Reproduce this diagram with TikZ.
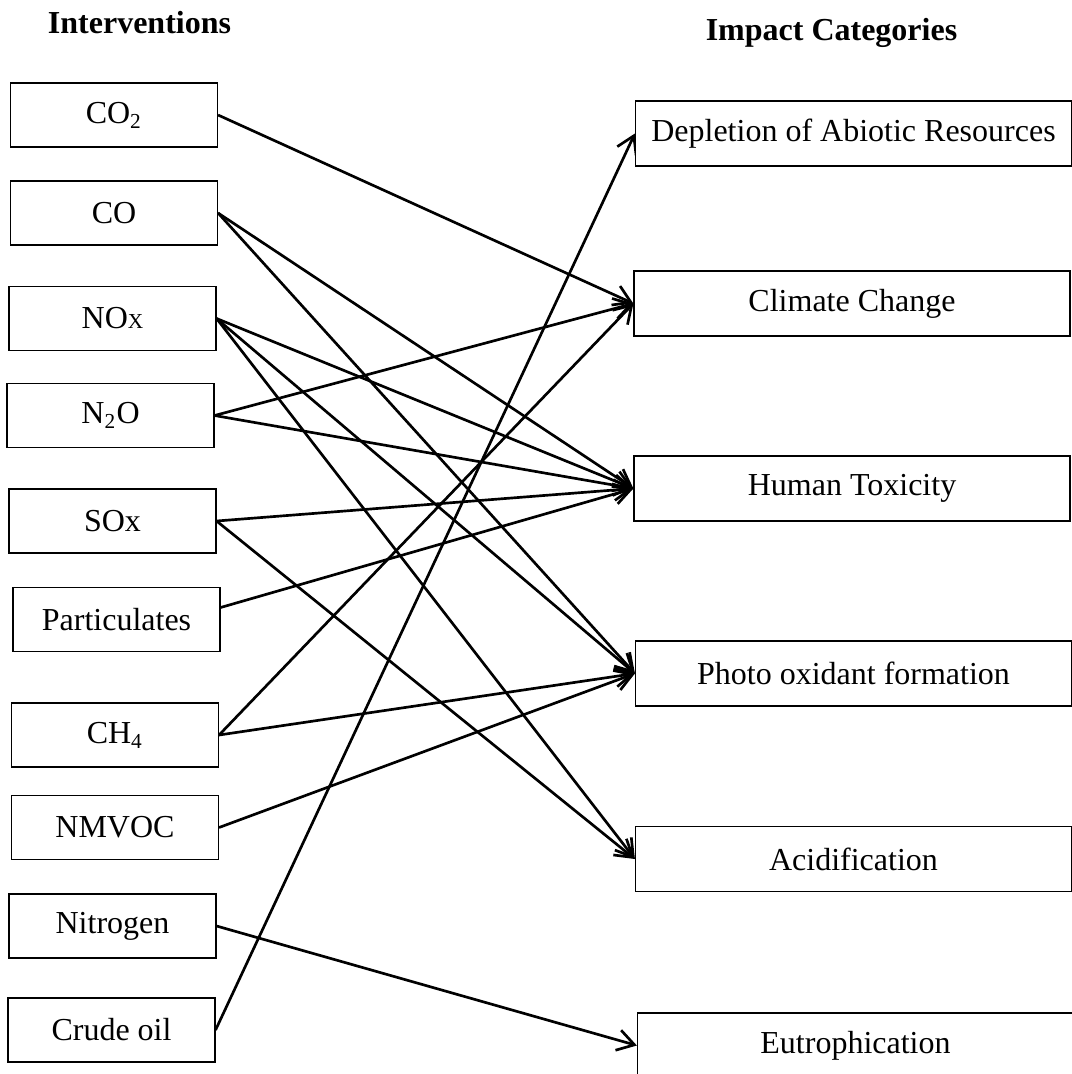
\documentclass[tikz,border=0pt]{standalone}
\usepackage{fontspec}
\setmainfont{Liberation Serif}
\usepackage{tikz}
\usetikzlibrary{positioning}
\usetikzlibrary{calc}
\usetikzlibrary{arrows.meta}
\pgfdeclarelayer{nodelayer}
\pgfdeclarelayer{edgelayer}
\pgfsetlayers{edgelayer,nodelayer,main}
\tikzset{every picture/.append style={x=15pt, y=15pt, font=\fontsize{12pt}{14pt}\selectfont}}
\tikzset{inbox/.style={draw, fill=white, rectangle, line width=0.45pt, minimum width=77.6pt, minimum height=24pt, inner sep=0pt}}
\tikzset{outbox/.style={draw, fill=white, rectangle, line width=0.45pt, minimum width=163.5pt, minimum height=24.4pt, inner sep=0pt}}
\tikzset{heading/.style={font=\fontsize{12pt}{14pt}\selectfont\bfseries, anchor=base, inner sep=0pt}}
\tikzset{link/.style={line width=1pt, -{Straight Barb[length=6.3pt, width=7.8pt]}}}

\begin{document}
\begin{tikzpicture}
	\useasboundingbox (0, 0) rectangle (26.8, -26.85);
	\begin{pgfonlayer}{nodelayer}
		\node [style=heading] (16) at (3.4875, -0.825) {Interventions};
		\node [style=heading] (17) at (20.7875, -1.0) {Impact Categories};
		\node [style=inbox] (0) at (2.85, -2.875) {CO\textsubscript{2}};
		\node [style=inbox] (1) at (2.85, -5.325) {CO};
		\node [style=inbox] (2) at (2.8125, -7.9625) {NO{\footnotesize X}};
		\node [style=inbox] (3) at (2.7625, -10.3875) {N\textsubscript{2}O};
		\node [style=inbox] (4) at (2.8125, -13.025) {SOx};
		\node [style=inbox] (5) at (2.9125, -15.4875) {Particulates};
		\node [style=inbox] (6) at (2.875, -18.375) {CH\textsubscript{4}};
		\node [style=inbox] (7) at (2.875, -20.6875) {NMVOC};
		\node [style=inbox] (8) at (2.8125, -23.15) {Nitrogen};
		\node [style=inbox] (9) at (2.7875, -25.75) {Crude oil};
		\node [style=outbox] (10) at (21.3375, -3.3375) {Depletion of Abiotic Resources};
		\node [style=outbox] (11) at (21.3, -7.5875) {Climate Change};
		\node [style=outbox] (12) at (21.3, -12.2125) {Human Toxicity};
		\node [style=outbox] (13) at (21.3375, -16.8375) {Photo oxidant formation};
		\node [style=outbox] (14) at (21.3375, -21.475) {Acidification};
		\node [style=outbox] (15) at (21.3875, -26.1375) {Eutrophication};
	\end{pgfonlayer}
	\begin{pgfonlayer}{edgelayer}
		\draw [style=link] (0.east) to (11.west);
		\draw [style=link] (1.east) to (12.west);
		\draw [style=link] (1.east) to (13.west);
		\draw [style=link] (2.east) to (12.west);
		\draw [style=link] (2.east) to (13.west);
		\draw [style=link] (2.east) to (14.west);
		\draw [style=link] (3.east) to (11.west);
		\draw [style=link] (3.east) to (12.west);
		\draw [style=link] (4.east) to (12.west);
		\draw [style=link] (4.east) to (14.west);
		\draw [style=link] ($(5.east)+(0, 0.3)$) to (12.west);
		\draw [style=link] (6.east) to (11.west);
		\draw [style=link] (6.east) to (13.west);
		\draw [style=link] (7.east) to (13.west);
		\draw [style=link] (8.east) to (15.west);
		\draw [style=link] (9.east) to (10.west);
	\end{pgfonlayer}
\end{tikzpicture}
\end{document}
